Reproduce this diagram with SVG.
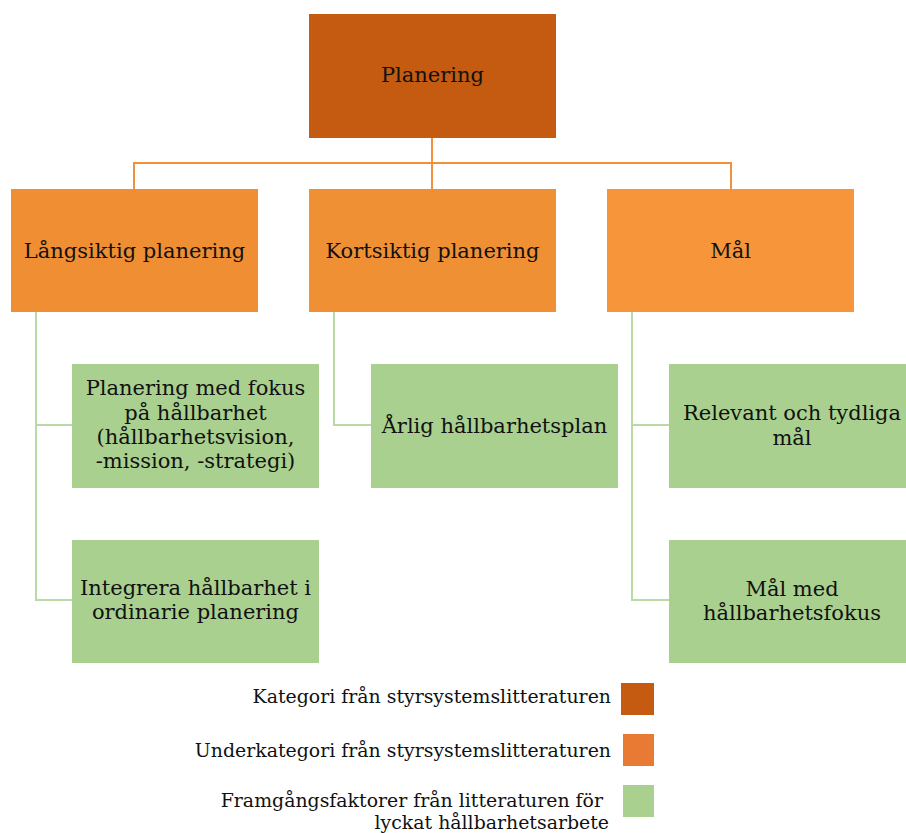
<svg xmlns="http://www.w3.org/2000/svg" width="906" height="833" viewBox="0 0 906 833">
<style>
text{font-family:"DejaVu Serif","Liberation Serif",serif;fill:#111;}
.n{font-size:21px;text-anchor:middle;}
.lg{font-size:18.9px;text-anchor:end;}
.green{fill:#A9D08E;}
.oc{fill:none;stroke:#F1913A;stroke-width:2;}
.gc{fill:none;stroke:#B9DAA5;stroke-width:2;}
</style>
<rect width="906" height="833" fill="#fff"/>
<g id="connectors">
<path class="oc" d="M432 138V189M134 189V163H731V189"/>
<path class="gc" d="M36 312V600H72M36 425H72"/>
<path class="gc" d="M334 312V425H371"/>
<path class="gc" d="M632 312V600H669M632 425H669"/>
</g>
<g id="planering"><rect x="309" y="14" width="247" height="124" fill="#C55A11"/><text class="n" x="432.5" y="82">Planering</text></g>
<g id="langsiktig"><rect x="11" y="189" width="247" height="123" fill="#EF8E33"/><text class="n" x="134.5" y="258">Långsiktig planering</text></g>
<g id="kortsiktig"><rect x="309" y="189" width="247" height="123" fill="#F09035"/><text class="n" x="432.5" y="258">Kortsiktig planering</text></g>
<g id="mal"><rect x="607" y="189" width="247" height="123" fill="#F7953A"/><text class="n" x="730.5" y="258">Mål</text></g>
<g id="fokus"><rect class="green" x="72" y="364" width="247" height="124"/><text class="n" x="195.5"><tspan x="195.5" y="395">Planering med fokus</tspan><tspan x="195.5" y="420">på hållbarhet</tspan><tspan x="195.5" y="444">(hållbarhetsvision,</tspan><tspan x="195.5" y="468">-mission, -strategi)</tspan></text></g>
<g id="integrera"><rect class="green" x="72" y="540" width="247" height="123"/><text class="n" x="195.5"><tspan x="195.5" y="595">Integrera hållbarhet i</tspan><tspan x="195.5" y="619">ordinarie planering</tspan></text></g>
<g id="arlig"><rect class="green" x="371" y="364" width="247" height="124"/><text class="n" x="494.5" y="433">Årlig hållbarhetsplan</text></g>
<g id="relevant"><rect class="green" x="669" y="364" width="247" height="124"/><text class="n" x="792"><tspan x="792" y="420">Relevant och tydliga</tspan><tspan x="792" y="445">mål</tspan></text></g>
<g id="malfokus"><rect class="green" x="669" y="540" width="247" height="123"/><text class="n" x="792"><tspan x="792" y="596">Mål med</tspan><tspan x="792" y="620">hållbarhetsfokus</tspan></text></g>
<g id="legend">
<text class="lg" x="611" y="703">Kategori från styrsystemslitteraturen</text>
<rect x="621" y="683" width="33" height="32" fill="#C55A11"/>
<text class="lg" x="611" y="757">Underkategori från styrsystemslitteraturen</text>
<rect x="623" y="734" width="31" height="32" fill="#E97A33"/>
<text class="lg" x="603" y="807">Framgångsfaktorer från litteraturen för</text>
<text class="lg" x="609" y="829">lyckat hållbarhetsarbete</text>
<rect x="623" y="785" width="31" height="32" fill="#A9D08E"/>
</g>
</svg>
